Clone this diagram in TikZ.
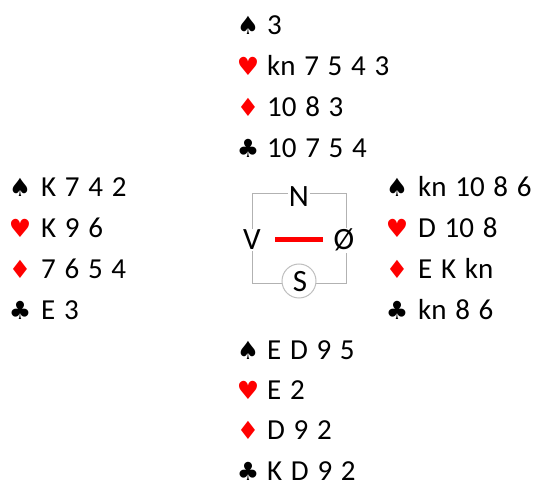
\documentclass[tikz,border=0pt]{standalone}
\usepackage{fontspec}
\setmainfont{Carlito}
\newfontfamily\suitfont{DejaVu Sans}
\newcommand\handrow[7]{%
  \node[suitsym,text=#3] (#1s) at (#4,-#6) {#2};
  \node[handtxt] (#1t) at (#5,-#6) {\spaceskip=0.3em\relax #7};}
\begin{document}
\begin{tikzpicture}[x=1pt,y=1pt,
  handtxt/.style={anchor=base west, inner sep=0pt, font=\fontsize{29}{29}\selectfont},
  suitsym/.style={anchor=base, inner sep=0pt, font=\suitfont\fontsize{25}{25}\selectfont},
  dirl/.style={anchor=base, inner sep=1pt, fill=white, font=\fontsize{31}{31}\selectfont}]
\useasboundingbox (0,0) rectangle (536,-486);
% North
\handrow{ns}{♠}{black}{248}{267}{35}{3}
\handrow{nh}{♥}{red}{248}{267}{76}{kn 7 5 4 3}
\handrow{nd}{♦}{red}{248}{267}{117}{10 8 3}
\handrow{nc}{♣}{black}{248}{267}{158}{10 7 5 4}
% West
\handrow{ws}{♠}{black}{20}{41}{197}{K 7 4 2}
\handrow{wh}{♥}{red}{20}{41}{238}{K 9 6}
\handrow{wd}{♦}{red}{20}{41}{279}{7 6 5 4}
\handrow{wc}{♣}{black}{20}{41}{320}{E 3}
% East
\handrow{es}{♠}{black}{397}{418}{197}{kn 10 8 6}
\handrow{eh}{♥}{red}{397}{418}{238}{D 10 8}
\handrow{ed}{♦}{red}{397}{418}{279}{E K kn}
\handrow{ec}{♣}{black}{397}{418}{320}{kn 8 6}
% South
\handrow{ss}{♠}{black}{248}{267}{360}{E D 9 5}
\handrow{sh}{♥}{red}{248}{267}{400}{E 2}
\handrow{sd}{♦}{red}{248}{267}{440}{D 9 2}
\handrow{sc}{♣}{black}{248}{267}{480}{K D 9 2}
% Compass
\node[draw=gray!60, line width=1pt, minimum width=94pt, minimum height=90pt, inner sep=0pt] (box) at (299,-239) {};
\node[circle, draw=gray!50, line width=1pt, fill=white, minimum size=34pt, inner sep=0pt] (scirc) at (299,-281) {};
\node[dirl] (N) at (299,-207) {N};
\node[dirl] (V) at (252,-250) {V};
\node[dirl] (O) at (344,-250) {Ø};
\node[anchor=base, inner sep=0pt, font=\fontsize{31}{31}\selectfont] (S) at (300,-292) {S};
\coordinate (r1) at (275,-239.5);
\coordinate (r2) at (323,-239.5);
\draw[red, line width=5pt] (r1) -- (r2);
\end{tikzpicture}
\end{document}
